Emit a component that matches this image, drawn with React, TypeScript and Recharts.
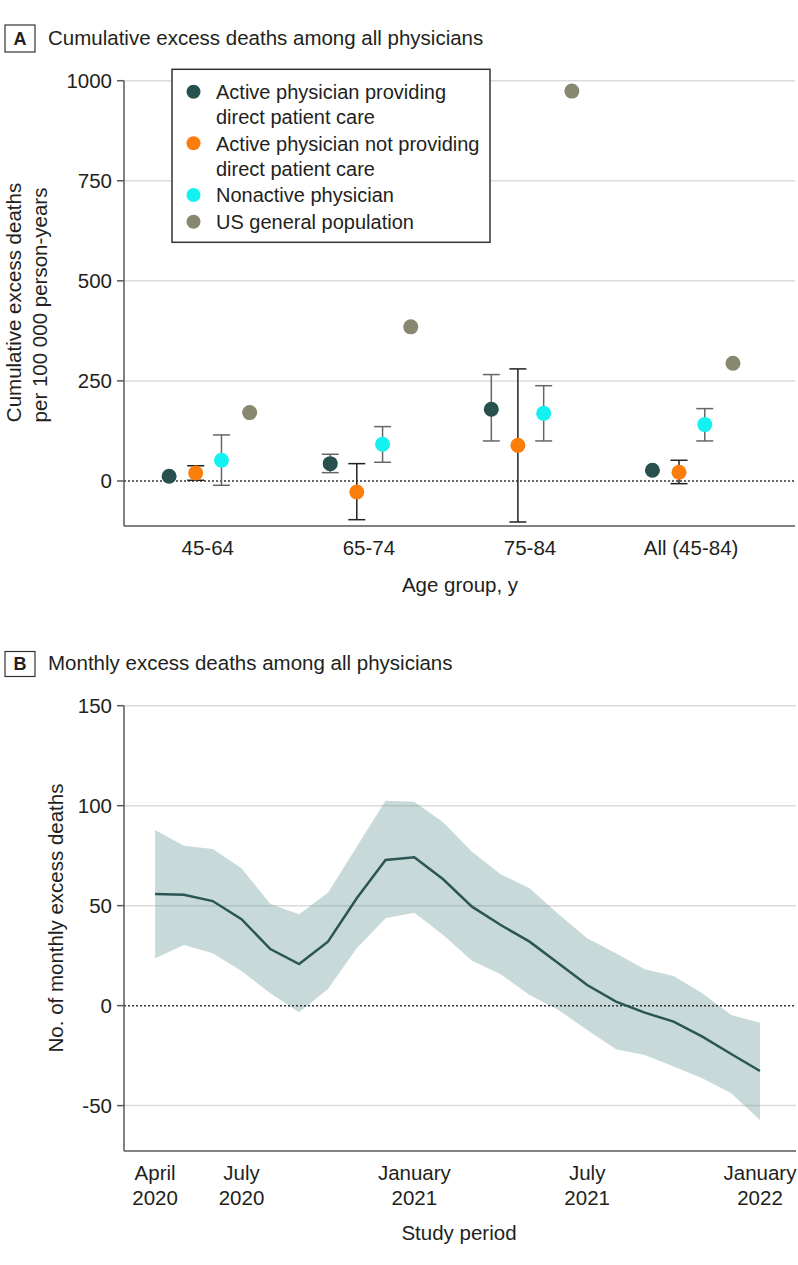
import React from 'react';
import {
  ScatterChart,
  Scatter,
  XAxis,
  YAxis,
  CartesianGrid,
  ErrorBar,
  ReferenceLine,
  ComposedChart,
  Area,
  Line,
} from 'recharts';

// ---------- Panel A data ----------
const ageGroups = ['45-64', '65-74', '75-84', 'All (45-84)'];
const groupPositions = [1, 2, 3, 4];

const directCareValue = [11.7, 43.3, 179, 26.7];
const directCareLow: (number | null)[] = [null, 20.8, 100, null];
const directCareHigh: (number | null)[] = [null, 66.7, 265.8, null];

const nonDirectValue = [20, -27.5, 89, 21.7];
const nonDirectLow = [1.7, -96.7, -102.5, -6.7];
const nonDirectHigh = [38, 43.3, 280, 51.7];

const nonactiveValue = [51.7, 91.7, 169, 140.8];
const nonactiveLow = [-10.8, 46.7, 100, 100];
const nonactiveHigh = [115, 135.8, 238, 180.8];

const usPopulationValue = [170.8, 385, 974, 294];

const panelATicks = [0, 250, 500, 750, 1000];
const panelAGrid = [250, 500, 750, 1000];

// ---------- Panel B data ----------
const monthIndex = [0, 1, 2, 3, 4, 5, 6, 7, 8, 9, 10, 11, 12, 13, 14, 15, 16, 17, 18, 19, 20, 21];
const monthlyEstimate = [55.8, 55.5, 52.3, 43.2, 28.3, 20.8, 32, 53.7, 72.8, 74.2, 63.2, 49.5, 40.3, 32, 21.2, 10.3, 2, -3.5, -8, -15.5, -24.2, -32.7];
const monthlyUpper = [87.8, 80, 78.3, 68.7, 50.8, 45.7, 56.5, 79.5, 102.5, 102, 91.7, 77, 65.7, 58.7, 45.8, 33.7, 26.2, 18.2, 14.8, 6.2, -4.7, -8.5];
const monthlyLower = [23.7, 30.3, 26.2, 17.3, 6.2, -3.3, 8.3, 28.7, 43.7, 46.5, 35.3, 22.5, 15.7, 5.3, -2.2, -12.2, -21.8, -24.7, -30.5, -36.3, -43.8, -57.2];

const panelBTickPositions = [0, 3, 9, 15, 21];
const panelBTickLabels = [
  ['April', '2020'],
  ['July', '2020'],
  ['January', '2021'],
  ['July', '2021'],
  ['January', '2022'],
];
const panelBTicks = [-50, 0, 50, 100, 150];
const panelBGrid = [-50, 50, 100, 150];

// ---------- styles ----------
const FONT = "'Liberation Sans', Arial, sans-serif";
const FS = 20.5;
const LEGEND_FS = 20;
const TEXT = '#231f20';
const AXIS = '#58595b';
const GRID = '#dcdcdc';

const COLORS = {
  direct: '#27504f',
  nonDirect: '#fb7d0b',
  nonactive: '#14f1f1',
  us: '#88876f',
};

const seriesOffsets = [-0.24, -0.075, 0.085, 0.26];

function buildSeries(
  values: number[],
  lows: (number | null)[] | null,
  highs: (number | null)[] | null,
  offset: number
) {
  return values.map((v, i) => {
    const lo = lows ? lows[i] : null;
    const hi = highs ? highs[i] : null;
    return {
      x: groupPositions[i] + offset,
      y: v,
      err: lo != null && hi != null ? [v - lo, hi - v] : undefined,
    };
  });
}

const directData = buildSeries(directCareValue, directCareLow, directCareHigh, seriesOffsets[0]);
const nonDirectData = buildSeries(nonDirectValue, nonDirectLow, nonDirectHigh, seriesOffsets[1]);
const nonactiveData = buildSeries(nonactiveValue, nonactiveLow, nonactiveHigh, seriesOffsets[2]);
const usData = buildSeries(usPopulationValue, null, null, seriesOffsets[3]);

const monthlyData = monthIndex.map((t, i) => ({
  t,
  est: monthlyEstimate[i],
  band: [monthlyLower[i], monthlyUpper[i]],
}));

const dot = (color: string) => (p: any) => <circle cx={p.cx} cy={p.cy} r={7.5} fill={color} />;

const AgeTick = (p: any) => (
  <text x={p.x} y={p.y + 29} textAnchor="middle" fill={TEXT} fontSize={FS} fontFamily={FONT}>
    {ageGroups[groupPositions.indexOf(p.payload.value)]}
  </text>
);

const MonthTick = (p: any) => {
  const idx = panelBTickPositions.indexOf(p.payload.value);
  const lines = panelBTickLabels[idx] || ['', ''];
  return (
    <g>
      <text x={p.x} y={p.y + 29} textAnchor="middle" fill={TEXT} fontSize={FS} fontFamily={FONT}>
        {lines[0]}
      </text>
      <text x={p.x} y={p.y + 54} textAnchor="middle" fill={TEXT} fontSize={FS} fontFamily={FONT}>
        {lines[1]}
      </text>
    </g>
  );
};

const legendItems = [
  { color: COLORS.direct, lines: ['Active physician providing', 'direct patient care'] },
  { color: COLORS.nonDirect, lines: ['Active physician not providing', 'direct patient care'] },
  { color: COLORS.nonactive, lines: ['Nonactive physician'] },
  { color: COLORS.us, lines: ['US general population'] },
];

function Overlay() {
  let lineIdx = 0;
  const lineCenters = [91.7, 117, 143.3, 168.5, 195, 221.7];
  return (
    <svg
      width={798}
      height={1265}
      style={{ position: 'absolute', left: 0, top: 0, pointerEvents: 'none' }}
      fontFamily={FONT}
    >
      {/* Panel A header */}
      <rect x={5} y={25} width={30} height={27} fill="none" stroke="#333" strokeWidth={1.2} />
      <text x={20} y={44.5} textAnchor="middle" fontSize={18} fontWeight="bold" fill={TEXT}>A</text>
      <text x={48} y={45} fontSize={FS} fill={TEXT}>Cumulative excess deaths among all physicians</text>

      {/* Panel A axis titles */}
      <text transform="translate(21,302.5) rotate(-90)" textAnchor="middle" fontSize={FS} fill={TEXT}>
        Cumulative excess deaths
      </text>
      <text transform="translate(47,305) rotate(-90)" textAnchor="middle" fontSize={FS} fill={TEXT}>
        per 100 000 person-years
      </text>
      <text x={460} y={592} textAnchor="middle" fontSize={FS} fill={TEXT}>Age group, y</text>

      {/* Legend */}
      <rect x={172} y={69.3} width={318} height={173} fill="#fff" stroke="#333" strokeWidth={1.5} />
      {legendItems.map((item, k) => {
        const first = lineIdx;
        const els = item.lines.map((ln, j) => {
          const cy = lineCenters[lineIdx++];
          return (
            <text key={j} x={216} y={cy + 7.2} fontSize={LEGEND_FS} fill={TEXT}>
              {ln}
            </text>
          );
        });
        return (
          <g key={k}>
            <circle cx={193.5} cy={lineCenters[first]} r={7} fill={item.color} />
            {els}
          </g>
        );
      })}

      {/* Panel B header */}
      <rect x={5} y={651.5} width={30} height={25} fill="none" stroke="#333" strokeWidth={1.2} />
      <text x={20} y={669.5} textAnchor="middle" fontSize={18} fontWeight="bold" fill={TEXT}>B</text>
      <text x={48} y={669.5} fontSize={FS} fill={TEXT}>Monthly excess deaths among all physicians</text>

      {/* Panel B axis titles */}
      <text transform="translate(62.5,918) rotate(-90)" textAnchor="middle" fontSize={FS} fill={TEXT}>
        No. of monthly excess deaths
      </text>
      <text x={459} y={1240} textAnchor="middle" fontSize={FS} fill={TEXT}>Study period</text>
    </svg>
  );
}

export default function App() {
  return (
    <div style={{ position: 'absolute', left: 0, top: 0, width: 798, height: 1265, background: '#fff', fontFamily: FONT }}>
      <div style={{ position: 'absolute', left: 0, top: 0 }}>
        <ScatterChart width={798} height={600} margin={{ top: 80.7, right: 3, bottom: 44, left: 0 }}>
          <CartesianGrid horizontal vertical={false} horizontalValues={panelAGrid} stroke={GRID} strokeWidth={1.5} />
          <XAxis
            type="number"
            dataKey="x"
            domain={[0.48, 4.645]}
            ticks={groupPositions}
            allowDataOverflow
            tickLine={false}
            tickSize={0}
            tickMargin={0}
            height={30}
            axisLine={{ stroke: AXIS, strokeWidth: 1.5 }}
            tick={<AgeTick />}
            interval={0}
          />
          <YAxis
            type="number"
            dataKey="y"
            domain={[-112.5, 1000]}
            ticks={panelATicks}
            allowDataOverflow
            width={124}
            tickSize={7}
            tickMargin={5}
            interval={0}
            axisLine={{ stroke: AXIS, strokeWidth: 1.5 }}
            tickLine={{ stroke: AXIS, strokeWidth: 1.5 }}
            tick={{ fill: TEXT, fontSize: FS, fontFamily: FONT }}
          />
          <ReferenceLine y={0} stroke="#333" strokeDasharray="2 2" strokeWidth={1.5} />
          <Scatter data={directData} shape={dot(COLORS.direct)} isAnimationActive={false}>
            <ErrorBar dataKey="err" direction="y" width={8.5} stroke="#666" strokeWidth={1.5} />
          </Scatter>
          <Scatter data={nonDirectData} shape={dot(COLORS.nonDirect)} isAnimationActive={false}>
            <ErrorBar dataKey="err" direction="y" width={8.5} stroke="#222" strokeWidth={1.5} />
          </Scatter>
          <Scatter data={nonactiveData} shape={dot(COLORS.nonactive)} isAnimationActive={false}>
            <ErrorBar dataKey="err" direction="y" width={8.5} stroke="#666" strokeWidth={1.5} />
          </Scatter>
          <Scatter data={usData} shape={dot(COLORS.us)} isAnimationActive={false} />
        </ScatterChart>
      </div>
      <div style={{ position: 'absolute', left: 0, top: 640 }}>
        <ComposedChart width={798} height={625} data={monthlyData} margin={{ top: 65.7, right: 2, bottom: 54, left: 0 }}>
          <CartesianGrid horizontal vertical={false} horizontalValues={panelBGrid} stroke={GRID} strokeWidth={1.5} />
          <XAxis
            type="number"
            dataKey="t"
            domain={[-1.08, 22.25]}
            ticks={panelBTickPositions}
            allowDataOverflow
            tickLine={false}
            tickSize={0}
            tickMargin={0}
            height={60}
            interval={0}
            axisLine={{ stroke: AXIS, strokeWidth: 1.5 }}
            tick={<MonthTick />}
          />
          <YAxis
            type="number"
            domain={[-72.7, 150]}
            ticks={panelBTicks}
            allowDataOverflow
            width={124}
            tickSize={7}
            tickMargin={5}
            interval={0}
            axisLine={{ stroke: AXIS, strokeWidth: 1.5 }}
            tickLine={{ stroke: AXIS, strokeWidth: 1.5 }}
            tick={{ fill: TEXT, fontSize: FS, fontFamily: FONT }}
          />
          <Area
            type="linear"
            dataKey="band"
            fill="#5f9593"
            fillOpacity={0.35}
            stroke="none"
            isAnimationActive={false}
          />
          <ReferenceLine y={0} stroke="#333" strokeDasharray="2 2" strokeWidth={1.5} />
          <Line
            type="linear"
            dataKey="est"
            stroke="#2b5655"
            strokeWidth={2.5}
            dot={false}
            isAnimationActive={false}
          />
        </ComposedChart>
      </div>
      <Overlay />
    </div>
  );
}
